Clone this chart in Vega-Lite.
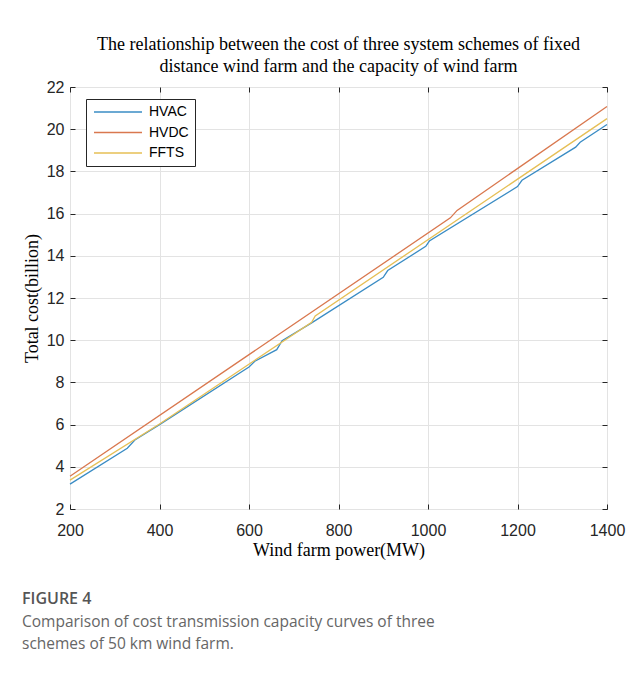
{
  "$schema": "https://vega.github.io/schema/vega-lite/v6.json",
  "background": "white",
  "padding": {"left": 22, "top": 35, "right": 5, "bottom": 5},
  "spacing": 31,
  "config": {
    "view": {"stroke": "#262626", "strokeWidth": 1},
    "axis": {
      "labelFont": "Liberation Sans", "labelFontSize": 16, "labelColor": "#262626", "labelFlush": false,
      "titleFont": "Liberation Serif", "titleFontSize": 18, "titleFontWeight": "normal", "titleColor": "#000000",
      "gridColor": "#e3e3e3", "gridWidth": 1, "domain": false,
      "tickColor": "#262626", "tickSize": -5, "tickWidth": 1
    }
  },
  "vconcat": [
    {
      "width": 537,
      "height": 422,
      "title": {
        "text": ["The relationship between the cost of three system schemes of fixed", "distance wind farm and the capacity of wind farm"],
        "font": "Liberation Serif", "fontSize": 18, "fontWeight": "normal", "color": "#000000",
        "lineHeight": 22, "offset": 3
      },
      "data": {
        "values": [
          {"power": 200, "cost": 3.18, "series": "HVAC"},
          {"power": 328, "cost": 4.88, "series": "HVAC"},
          {"power": 345, "cost": 5.27, "series": "HVAC"},
          {"power": 400, "cost": 6.0, "series": "HVAC"},
          {"power": 600, "cost": 8.73, "series": "HVAC"},
          {"power": 613, "cost": 9.0, "series": "HVAC"},
          {"power": 662, "cost": 9.55, "series": "HVAC"},
          {"power": 674, "cost": 9.98, "series": "HVAC"},
          {"power": 740, "cost": 10.82, "series": "HVAC"},
          {"power": 900, "cost": 12.98, "series": "HVAC"},
          {"power": 910, "cost": 13.3, "series": "HVAC"},
          {"power": 995, "cost": 14.45, "series": "HVAC"},
          {"power": 1003, "cost": 14.7, "series": "HVAC"},
          {"power": 1200, "cost": 17.28, "series": "HVAC"},
          {"power": 1210, "cost": 17.58, "series": "HVAC"},
          {"power": 1330, "cost": 19.15, "series": "HVAC"},
          {"power": 1340, "cost": 19.38, "series": "HVAC"},
          {"power": 1400, "cost": 20.22, "series": "HVAC"},
          {"power": 200, "cost": 3.55, "series": "HVDC"},
          {"power": 1050, "cost": 15.8, "series": "HVDC"},
          {"power": 1065, "cost": 16.15, "series": "HVDC"},
          {"power": 1400, "cost": 21.08, "series": "HVDC"},
          {"power": 200, "cost": 3.37, "series": "FFTS"},
          {"power": 400, "cost": 6.03, "series": "FFTS"},
          {"power": 740, "cost": 10.85, "series": "FFTS"},
          {"power": 748, "cost": 11.15, "series": "FFTS"},
          {"power": 1400, "cost": 20.5, "series": "FFTS"}
        ]
      },
      "layer": [
        {
          "mark": {"type": "line", "strokeWidth": 1.3},
          "encoding": {
            "x": {"field": "power", "type": "quantitative", "scale": {"domain": [200, 1400], "nice": false},
              "axis": {"values": [200, 400, 600, 800, 1000, 1200, 1400], "format": "d", "title": "Wind farm power(MW)",
                "labelFont": "Liberation Sans", "labelFontSize": 16, "labelColor": "#262626", "labelFlush": false, "labelPadding": 18, "titlePadding": 3}},
            "y": {"field": "cost", "type": "quantitative", "scale": {"domain": [2, 22], "nice": false},
              "axis": {"values": [2, 4, 6, 8, 10, 12, 14, 16, 18, 20, 22], "title": "Total cost(billion)",
                "labelFont": "Liberation Sans", "labelFontSize": 16, "labelColor": "#262626", "labelFlush": false, "labelPadding": 11, "titlePadding": 5}},
            "color": {"field": "series", "type": "nominal",
              "scale": {"domain": ["HVAC", "HVDC", "FFTS"], "range": ["#3a8cc4", "#d9784f", "#e6bf55"]},
              "legend": {"title": null, "orient": "none", "legendX": 16, "legendY": 12,
                "symbolType": "M-1,0H8.6", "symbolSize": 100, "symbolStrokeWidth": 1.5,
                "labelFont": "Liberation Sans", "labelFontSize": 14, "labelColor": "#000000", "labelOffset": 43,
                "strokeColor": "#262626", "fillColor": "#ffffff", "padding": 6, "rowPadding": 6.5, "symbolOffset": 0}}
          }
        },
        {
          "mark": {"type": "line", "opacity": 0},
          "encoding": {
            "x": {"field": "power", "type": "quantitative",
              "axis": {"orient": "top", "values": [200, 400, 600, 800, 1000, 1200, 1400], "labels": false, "grid": false, "title": null}},
            "y": {"field": "cost", "type": "quantitative",
              "axis": {"orient": "right", "values": [2, 4, 6, 8, 10, 12, 14, 16, 18, 20, 22], "labels": false, "grid": false, "title": null}},
            "detail": {"field": "series"}
          }
        }
      ],
      "resolve": {"axis": {"x": "independent", "y": "independent"}}
    },
    {
      "width": 537,
      "height": 1,
      "view": {"stroke": null},
      "title": {
        "text": "FIGURE 4",
        "subtitle": ["Comparison of cost transmission capacity curves of three", "schemes of 50 km wind farm."],
        "anchor": "start", "dx": -48,
        "font": "Open Sans", "fontSize": 16, "fontWeight": 600, "color": "#555555",
        "subtitleFont": "Open Sans", "subtitleFontSize": 15.5, "subtitleColor": "#666666",
        "subtitleLineHeight": 22, "subtitlePadding": 8
      },
      "data": {"values": [{"a": 1}]},
      "mark": {"type": "point", "opacity": 0},
      "encoding": {}
    }
  ]
}
